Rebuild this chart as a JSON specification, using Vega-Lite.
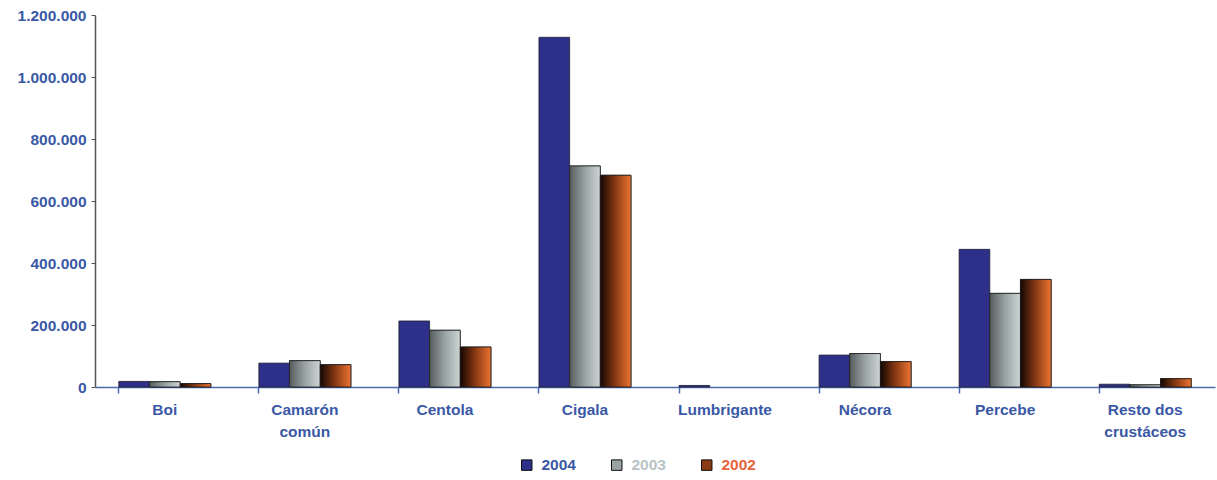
{
  "$schema": "https://vega.github.io/schema/vega-lite/v6.json",
  "width": 1120,
  "height": 372,
  "autosize": {"type": "none"},
  "padding": {"left": 95, "top": 15, "right": 2, "bottom": 93},
  "background": "white",
  "config": {
    "view": {"stroke": null},
    "font": "Liberation Sans"
  },
  "data": {
    "values": [
      {"especie": "Boi", "ano": "2004", "valor": 18000},
      {"especie": "Boi", "ano": "2003", "valor": 17000},
      {"especie": "Boi", "ano": "2002", "valor": 11000},
      {"especie": "Camarón común", "ano": "2004", "valor": 77000},
      {"especie": "Camarón común", "ano": "2003", "valor": 85000},
      {"especie": "Camarón común", "ano": "2002", "valor": 72000},
      {"especie": "Centola", "ano": "2004", "valor": 213000},
      {"especie": "Centola", "ano": "2003", "valor": 183000},
      {"especie": "Centola", "ano": "2002", "valor": 129000},
      {"especie": "Cigala", "ano": "2004", "valor": 1128000},
      {"especie": "Cigala", "ano": "2003", "valor": 713000},
      {"especie": "Cigala", "ano": "2002", "valor": 683000},
      {"especie": "Lumbrigante", "ano": "2004", "valor": 5000},
      {"especie": "Lumbrigante", "ano": "2003", "valor": 0},
      {"especie": "Lumbrigante", "ano": "2002", "valor": 0},
      {"especie": "Nécora", "ano": "2004", "valor": 103000},
      {"especie": "Nécora", "ano": "2003", "valor": 108000},
      {"especie": "Nécora", "ano": "2002", "valor": 82000},
      {"especie": "Percebe", "ano": "2004", "valor": 444000},
      {"especie": "Percebe", "ano": "2003", "valor": 302000},
      {"especie": "Percebe", "ano": "2002", "valor": 347000},
      {"especie": "Resto dos crustáceos", "ano": "2004", "valor": 9000},
      {"especie": "Resto dos crustáceos", "ano": "2003", "valor": 7000},
      {"especie": "Resto dos crustáceos", "ano": "2002", "valor": 27000}
    ]
  },
  "transform": [{"filter": "datum.valor > 0"}],
  "encoding": {
    "x": {
      "field": "especie",
      "type": "nominal",
      "sort": null,
      "scale": {"paddingInner": 0.343, "paddingOuter": 0.17},
      "axis": {
        "title": null,
        "labelAngle": 0,
        "labelFont": "Liberation Sans",
        "labelFontWeight": "bold",
        "labelFontSize": 15.5,
        "labelColor": "#3A58A6",
        "labelPadding": 9,
        "labelLineHeight": 22,
        "labelExpr": "datum.value == 'Camarón común' ? ['Camarón', 'común'] : datum.value == 'Resto dos crustáceos' ? ['Resto dos', 'crustáceos'] : datum.value",
        "domainColor": "#4A6AAE",
        "domainWidth": 1.5,
        "tickColor": "#4A6AAE",
        "tickSize": 6,
        "tickWidth": 1.5,
        "bandPosition": 0,
        "grid": false
      }
    },
    "xOffset": {
      "field": "ano",
      "type": "nominal",
      "scale": {"domain": ["2004", "2003", "2002"], "paddingInner": 0, "paddingOuter": 0}
    },
    "y": {
      "field": "valor",
      "type": "quantitative",
      "scale": {"domain": [0, 1200000], "nice": false},
      "axis": {
        "title": null,
        "values": [0, 200000, 400000, 600000, 800000, 1000000, 1200000],
        "labelExpr": "replace(format(datum.value, ','), regexp(',', 'g'), '.')",
        "labelFont": "Liberation Sans",
        "labelFontWeight": "bold",
        "labelFontSize": 15.5,
        "labelColor": "#3A58A6",
        "labelPadding": 5,
        "domainColor": "#555555",
        "domainWidth": 1.5,
        "tickColor": "#555555",
        "tickSize": 4,
        "grid": false
      }
    }
  },
  "layer": [
    {
      "mark": {"type": "bar", "stroke": "#1E1E2E", "strokeWidth": 0.8},
      "encoding": {
        "color": {
          "field": "ano",
          "type": "nominal",
          "scale": {"domain": ["2004", "2003", "2002"], "range": ["#2D2F88", "#9AA3A4", "#8A3A14"]},
          "legend": {
            "title": null,
            "orient": "none",
            "direction": "horizontal",
            "legendX": 424,
            "legendY": 442,
            "symbolType": "square",
            "symbolSize": 110,
            "symbolStrokeColor": "#111111",
            "symbolStrokeWidth": 1,
            "labelFont": "Liberation Sans",
            "labelFontWeight": "bold",
            "labelFontSize": 15.5,
            "labelOffset": 7,
            "columnPadding": 33,
            "encode": {
              "labels": {
                "update": {
                  "fill": {"signal": "datum.label === '2004' ? '#3A58A6' : datum.label === '2003' ? '#B9C3C6' : '#E8643C'"}
                }
              }
            }
          }
        }
      }
    },
    {
      "transform": [{"filter": "datum.ano === '2003'"}],
      "mark": {
        "type": "bar",
        "stroke": "#1E1E1E",
        "strokeWidth": 0.8,
        "fill": {
          "gradient": "linear",
          "x1": 0, "y1": 0, "x2": 1, "y2": 0,
          "stops": [
            {"offset": 0, "color": "#555C5D"},
            {"offset": 0.5, "color": "#9AA3A4"},
            {"offset": 1, "color": "#CDD5D5"}
          ]
        }
      },
      "encoding": {}
    },
    {
      "transform": [{"filter": "datum.ano === '2002'"}],
      "mark": {
        "type": "bar",
        "stroke": "#1E1E1E",
        "strokeWidth": 0.8,
        "fill": {
          "gradient": "linear",
          "x1": 0, "y1": 0, "x2": 1, "y2": 0,
          "stops": [
            {"offset": 0, "color": "#140602"},
            {"offset": 0.5, "color": "#8A3A14"},
            {"offset": 1, "color": "#EC7432"}
          ]
        }
      },
      "encoding": {}
    }
  ]
}
